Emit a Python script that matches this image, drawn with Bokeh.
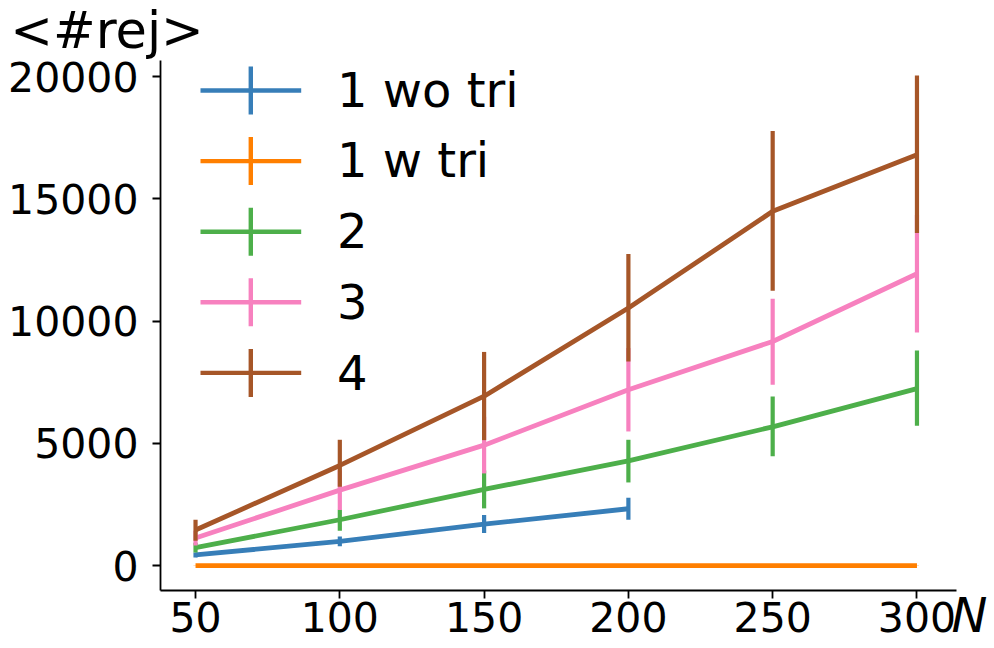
from bokeh.plotting import figure
from bokeh.models import Range1d, FixedTicker, Label, BoxAnnotation
from bokeh.embed import file_html
from bokeh.resources import INLINE

# ---------------- data ----------------
N_all = [50, 100, 150, 200, 250, 300]
N_wo = [50, 100, 150, 200]

series_names = ["1 wo tri", "1 w tri", "2", "3", "4"]
series_colors = ["#377eb8", "#ff7f00", "#4daf4a", "#f781bf", "#a65628"]

rej_1wo = [440, 1000, 1700, 2330]
lo_1wo = [340, 800, 1340, 1880]
hi_1wo = [540, 1200, 2070, 2780]

rej_1w = [5, 5, 5, 5, 5, 5]
lo_1w = [0, 0, 0, 0, 0, 0]
hi_1w = [10, 10, 10, 10, 10, 10]

rej_2 = [740, 1880, 3120, 4290, 5680, 7240]
lo_2 = [540, 1430, 2345, 3405, 4480, 5720]
hi_2 = [940, 2290, 3895, 5150, 6920, 8800]

rej_3 = [1130, 3092, 4930, 7195, 9170, 11940]
lo_3 = [830, 2275, 3774, 5490, 7400, 9540]
hi_3 = [1430, 3900, 6090, 8900, 10920, 14340]

rej_4 = [1460, 4100, 6932, 10535, 14490, 16800]
lo_4 = [1020, 3230, 5135, 8350, 11240, 13600]
hi_4 = [1880, 5150, 8742, 12750, 17780, 20040]

x_series = [N_wo, N_all, N_all, N_all, N_all]
y_series = [rej_1wo, rej_1w, rej_2, rej_3, rej_4]
lo_series = [lo_1wo, lo_1w, lo_2, lo_3, lo_4]
hi_series = [hi_1wo, hi_1w, hi_2, hi_3, hi_4]

y_ticks = [0, 5000, 10000, 15000, 20000]
x_ticks = [50, 100, 150, 200, 250, 300]

# ---------------- figure ----------------
FONT = "DejaVu Sans"
TICK_FS, LEG_FS, YLAB_FS, XLAB_FS = 41, 48, 51, 48
BASE_SHIFT = 0.4            # bokeh draws "alphabetic" text this many em lower
W, H = 994, 646
ML, MR, MT, MB = 160, 38, 60, 56
FRAME_RIGHT = W - MR
FRAME_BOTTOM = H - MB
PX_PER_UNIT = 2.8835            # horizontal scale of the reference
x_start = 50 - (195 - ML) / PX_PER_UNIT
x_end = 300 + (FRAME_RIGHT - 916.5) / PX_PER_UNIT

p = figure(width=W, height=H, x_range=Range1d(x_start, x_end), y_range=Range1d(-1013, 20658),
           output_backend="svg", toolbar_location=None,
           min_border_left=ML, min_border_right=MR, min_border_top=MT, min_border_bottom=MB)
p.outline_line_color = None
p.xgrid.visible = False
p.ygrid.visible = False
p.background_fill_color = "white"
p.border_fill_color = "white"

for ax in (p.xaxis[0], p.yaxis[0]):
    ax.axis_line_width = 1.8
    ax.axis_line_color = "black"
    ax.major_tick_line_width = 1.8
    ax.major_tick_line_color = "black"
    ax.major_tick_out = 8
    ax.major_tick_in = 0
    ax.minor_tick_line_color = None
    ax.major_label_text_font = FONT
    ax.major_label_text_font_size = f"{TICK_FS}px"
    ax.major_label_text_color = "black"

p.xaxis[0].ticker = FixedTicker(ticks=x_ticks)
p.yaxis[0].ticker = FixedTicker(ticks=y_ticks)
p.xaxis[0].major_label_standoff = 3
p.yaxis[0].major_label_standoff = 14

for xs, ys, lo, hi, c in zip(x_series, y_series, lo_series, hi_series, series_colors):
    p.line(xs, ys, line_color=c, line_width=4.8)
    p.segment(x0=xs, y0=lo, x1=xs, y1=hi, line_color=c, line_width=4.2)

# ---------------- axis captions (side panels, so they are not clipped) ----------------
ylab_box_bottom = 60
p.add_layout(Label(x=9.7 - ML, y=ylab_box_bottom - (50.0 - BASE_SHIFT * YLAB_FS),
                   x_units="screen", y_units="screen", text="<#rej>",
                   text_font=FONT, text_font_size=f"{YLAB_FS}px", text_color="black",
                   text_baseline="alphabetic", text_align="left"), "above")
p.add_layout(Label(x=951 - FRAME_RIGHT, y=FRAME_BOTTOM - (634 - BASE_SHIFT * XLAB_FS),
                   x_units="screen", y_units="screen", text="N",
                   text_font=FONT, text_font_size=f"{XLAB_FS}px", text_font_style="italic",
                   text_color="black", text_baseline="alphabetic", text_align="left"), "right")

# ---------------- legend (drawn by hand, frame-relative screen units) ----------------
def fx(x):
    return x - ML

def fy(y):
    return FRAME_BOTTOM - y

row0, row_step = 90.0, 70.6
for i, (name, c) in enumerate(zip(series_names, series_colors)):
    cy = row0 + row_step * i
    p.add_layout(BoxAnnotation(left=fx(200), right=fx(300.7), top=fy(cy - 2.2), bottom=fy(cy + 2.2),
                               left_units="screen", right_units="screen", top_units="screen", bottom_units="screen",
                               fill_color=c, fill_alpha=1, line_color=None))
    p.add_layout(BoxAnnotation(left=fx(248.1), right=fx(252.5), top=fy(cy - 24), bottom=fy(cy + 24),
                               left_units="screen", right_units="screen", top_units="screen", bottom_units="screen",
                               fill_color=c, fill_alpha=1, line_color=None))
    p.add_layout(Label(x=fx(336.5), y=fy(cy + 18.3 - BASE_SHIFT * LEG_FS), x_units="screen", y_units="screen",
                       text=name, text_font=FONT, text_font_size=f"{LEG_FS}px", text_color="black",
                       text_baseline="alphabetic", text_align="left"))

open("out.html", "w").write(file_html(p, INLINE))
